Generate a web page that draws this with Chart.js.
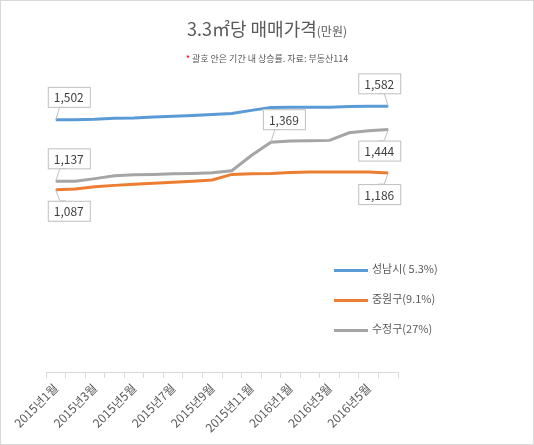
<!DOCTYPE html><html><head><meta charset="utf-8">
<script src="https://cdn.jsdelivr.net/npm/chart.js"></script>
<style>
body{margin:0;background:#fff;font-family:"Malgun Gothic","Noto Sans CJK KR",sans-serif}
#wrap{position:relative;width:532px;height:443px;border:1px solid #d9d9d9;overflow:hidden}
#t{position:absolute;top:14px;left:0;width:532px;text-align:center;font-size:18px;color:#595959}
#t small{font-size:12px}
#s{position:absolute;top:51px;left:0;width:532px;text-align:center;font-size:9px;color:#595959}
.lg{position:absolute;left:333px;font-size:11px;color:#595959}
.lg i{display:inline-block;width:34px;height:3px;vertical-align:middle;margin-right:4px}
canvas{position:absolute;left:0;top:0}
</style></head><body><div id="wrap">
<canvas id="c" width="532" height="443"></canvas>
<div id="t">3.3㎡당 매매가격<small>(만원)</small></div>
<div id="s"><span style="color:#e00">*</span> 괄호 안은 기간 내 상승률. 자료: 부동산114</div>
<div class="lg" style="top:259px"><i style="background:#5b9bd5"></i>성남시( 5.3%)</div>
<div class="lg" style="top:289px"><i style="background:#ed7d31"></i>중원구(9.1%)</div>
<div class="lg" style="top:319px"><i style="background:#a5a5a5"></i>수정구(27%)</div>
</div>
<script>
const months=["2015년1월","2015년2월","2015년3월","2015년4월","2015년5월","2015년6월","2015년7월","2015년8월","2015년9월","2015년10월","2015년11월","2015년12월","2016년1월","2016년2월","2016년3월","2016년4월","2016년5월","2016년6월"];
const seongnam=[1502,1502,1505,1512,1513,1518,1523,1528,1533,1540,1558,1575,1576,1577,1577,1581,1582,1582];
const jungwon=[1087,1092,1105,1113,1119,1125,1131,1137,1145,1178,1182,1184,1190,1192,1192,1192,1192,1186];
const sujeong=[1137,1137,1153,1170,1176,1178,1182,1184,1188,1200,1290,1369,1376,1378,1380,1425,1437,1444];
const callouts=[[0,0,-1],[0,17,-1],[1,0,1],[1,17,1],[2,0,-1],[2,11,-1],[2,17,1]];
const calloutPlugin={id:'co',afterDatasetsDraw(ch){const g=ch.ctx;g.save();g.font='12px "Malgun Gothic","Noto Sans CJK KR",sans-serif';
callouts.forEach(([d,i,dir])=>{const p=ch.getDatasetMeta(d).data[i];const v=ch.data.datasets[d].data[i];const s=v.toLocaleString('en-US');
const w=g.measureText(s).width+12,h=20;let bx=p.x-8,by=dir<0?p.y-h-13:p.y+11;if(i==17)bx=p.x-w+12;
g.fillStyle='#fff';g.strokeStyle='#bfbfbf';g.lineWidth=1;g.beginPath();
g.moveTo(p.x,p.y);g.lineTo(p.x+(i==17?-4:4),dir<0?by+h:by);g.lineTo(p.x+(i==17?-10:10),dir<0?by+h:by);g.stroke();
g.fillRect(bx,by,w,h);g.strokeRect(bx+.5,by+.5,w,h);g.fillStyle='#404040';g.textBaseline='middle';g.fillText(s,bx+6,by+h/2+1);});g.restore();}};
new Chart(document.getElementById('c'),{type:'line',
data:{labels:months,datasets:[
{data:seongnam,borderColor:'#5b9bd5'},{data:jungwon,borderColor:'#ed7d31'},{data:sujeong,borderColor:'#a5a5a5'}].map(o=>Object.assign(o,{borderWidth:3,pointRadius:0,tension:0}))},
options:{responsive:false,animation:false,layout:{padding:{left:45,right:135,top:60,bottom:6}},
plugins:{legend:{display:false},tooltip:{enabled:false}},
scales:{y:{display:false,min:0,max:1851},
x:{offset:true,grid:{display:true,drawOnChartArea:false,tickLength:5,color:'#d9d9d9',offset:true},border:{color:'#d9d9d9'},
ticks:{autoSkip:false,maxRotation:45,minRotation:45,color:'#595959',font:{size:12,family:'"Malgun Gothic","Noto Sans CJK KR",sans-serif'},callback:(v,i)=>i%2==0?months[i]:''}}}},
plugins:[calloutPlugin]});
</script></body></html>
